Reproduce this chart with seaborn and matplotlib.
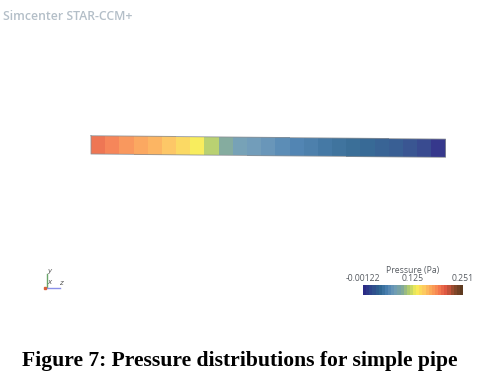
import numpy as np
import matplotlib
matplotlib.use("Agg")
import matplotlib.pyplot as plt
from matplotlib.colors import LinearSegmentedColormap
from matplotlib.transforms import Affine2D
import seaborn as sns

W, H = 478, 381
# pressure values along the pipe, left to right (Pa)
pipe_pressure = [0.198, 0.189, 0.181, 0.173, 0.166, 0.156, 0.146, 0.135, 0.115, 0.096,
                 0.080, 0.075, 0.070, 0.062, 0.056, 0.052, 0.048, 0.044, 0.040, 0.036,
                 0.032, 0.027, 0.021, 0.013, 0.001]
bar_levels = 32
p_min, p_max = -0.00122, 0.251
bar_ticks = ["-0.00122", "0.125", "0.251"]
cmap_colors = ["#2b2a85", "#2f4a8c", "#2d6590", "#4a80b0", "#6d9ab8", "#7fa89a", "#b8d068",
               "#f8ee55", "#fdc860", "#fba258", "#f57a50", "#dc5540", "#8a4a2c", "#5e3a20"]
cmap = LinearSegmentedColormap.from_list("pressure", cmap_colors)

fig = plt.figure(figsize=(W / 100, H / 100), dpi=100, facecolor="white")

def axes_px(x0, y0, x1, y1):
    return fig.add_axes([x0 / W, 1 - y1 / H, (x1 - x0) / W, (y1 - y0) / H])

# pipe
ax = axes_px(91, 135.7, 445.5, 154.0)
sns.heatmap([pipe_pressure], ax=ax, cmap=cmap, vmin=p_min, vmax=p_max, cbar=False,
            xticklabels=False, yticklabels=False, alpha=0.95)
mesh = ax.collections[0]
n = len(pipe_pressure)
k = (3.4 / 18.3) / n
mesh.set_transform(Affine2D.from_values(1, k, 0, 1, 0, 0) + ax.transData)
mesh.set_clip_on(False)
mesh.set_antialiased(True)
ax.axis("off")
ax.plot([0, n, n, 0, 0], [0, k * n, 1 + k * n, 1, 0], color="#8a8f94", lw=0.7, clip_on=False, alpha=0.8)

# colour bar
cax = axes_px(363, 284.5, 463, 295)
sns.heatmap([np.linspace(p_min, p_max, bar_levels)], ax=cax, cmap=cmap, vmin=p_min, vmax=p_max,
            cbar=False, xticklabels=False, yticklabels=False)
cax.axis("off")
for label, frac in zip(bar_ticks, [0, 0.5, 1]):
    cax.text(frac * bar_levels, -0.12, label, ha="center", va="bottom", fontsize=6.2,
             color="#555a60", family="Open Sans", clip_on=False)
cax.text(bar_levels / 2, -0.95, "Pressure (Pa)", ha="center", va="bottom", fontsize=6.2,
         color="#555a60", family="Open Sans", clip_on=False)

# overlay for triad and texts
ov = fig.add_axes([0, 0, 1, 1])
ov.set_xlim(0, W)
ov.set_ylim(H, 0)
ov.axis("off")
ov.patch.set_alpha(0)
ov.plot([47, 47], [287, 274], color="#6aa56a", lw=1)
ov.plot([46, 60], [288, 288], color="#8a90e8", lw=1)
ov.plot([45.5], [288], "s", ms=1.8, color="#d8603a")
ov.text(49, 271, "y", fontsize=5, color="#555", ha="center", va="center", style="italic")
ov.text(49, 282, "x", fontsize=5, color="#555", ha="center", va="center", style="italic")
ov.text(60.5, 283, "z", fontsize=5, color="#555", ha="center", va="center", style="italic")
ov.text(3, 16, "Simcenter STAR-CCM+", fontsize=8.8, fontweight="semibold", color="#b4bfc8",
        family="Open Sans", va="center", ha="left")
ov.text(240, 361, "Figure 7: Pressure distributions for simple pipe", fontsize=15.6, fontweight="bold",
        family="Liberation Serif", color="black", ha="center", va="center")

fig.savefig("out.png", dpi=100)
